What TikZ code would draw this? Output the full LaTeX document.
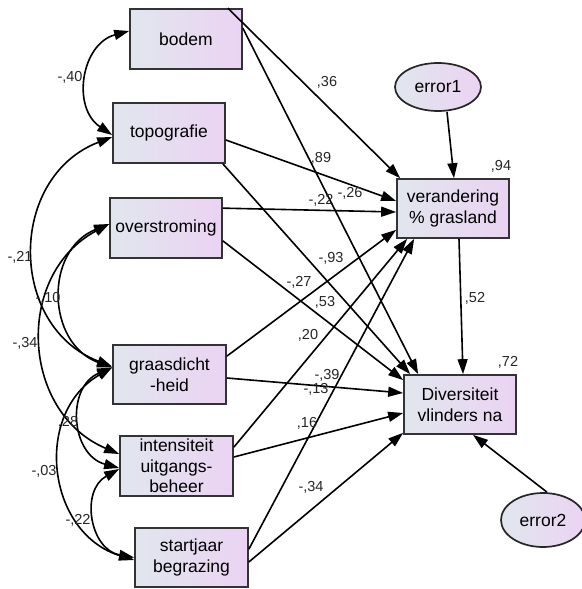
\documentclass[tikz,border=0pt]{standalone}
\usepackage{fontspec}
\setmainfont{Liberation Sans}
\usetikzlibrary{arrows.meta,shapes.geometric,calc}
\definecolor{boxl}{HTML}{E1E6EE}
\definecolor{boxr}{HTML}{EBD3F3}
\begin{document}
\begin{tikzpicture}[x=1pt,y=1pt,
  var/.style={draw=black!80, line width=1.7pt, left color=boxl, right color=boxr,
    minimum width=112pt, minimum height=59pt, inner sep=0pt, align=center,
    font=\fontsize{17.5}{20.5}\selectfont},
  err/.style={ellipse, draw=black!85, line width=1.7pt, left color=boxl, right color=boxr,
    inner sep=0pt, font=\fontsize{17.5}{20.5}\selectfont},
  reg/.style={-{Triangle[length=15pt,width=10pt]}, line width=1.6pt},
  cov/.style={{Triangle[length=15pt,width=10pt]}-{Triangle[length=15pt,width=10pt]}, line width=1.6pt},
  lbl/.style={font=\fontsize{14.5}{16}\selectfont, text=black!85, inner sep=0pt}]
\fill[white] (0,0) rectangle (581,-589);
\useasboundingbox (0,0) rectangle (581,-589);

% variables
\node[var, minimum height=60pt] (bodem) at (186,-39) {bodem};
\node[var, minimum height=60pt] (topo) at (169,-133) {topografie};
\node[var, minimum height=60pt] (over) at (166,-228) {overstroming};
\node[var, minimum width=113pt] (graas) at (169.5,-374.5) {graasdicht\\-heid};
\node[var, minimum width=113pt, minimum height=60pt] (inten) at (176.5,-466) {intensiteit\\uitgangs-\\beheer};
\node[var, minimum width=113pt] (start) at (191.5,-557.5) {startjaar\\begrazing};
\node[var] (ver) at (453,-208.5) {verandering\\\% grasland};
\node[var] (div) at (460,-404.5) {Diversiteit\\vlinders na};
\node[err, minimum width=86pt, minimum height=48pt] (e1) at (438,-87) {error1};
\node[err, minimum width=84pt, minimum height=54pt] (e2) at (543,-520) {error2};

% regressions
\draw[reg] ([xshift=-15pt]bodem.north east) -- ([xshift=4pt]ver.north west);
\draw[reg] ([yshift=-20pt]bodem.north east) -- ([xshift=15pt]div.north west);
\draw[reg] ([yshift=-7pt]topo.east) -- ([yshift=7.5pt]ver.west);
\draw[reg] ([xshift=-3pt]topo.south east) -- ([xshift=7pt]div.north west);
\draw[reg] ([yshift=-11pt]over.north east) -- ([yshift=-3.5pt]ver.west);
\draw[reg] ([yshift=18pt]over.south east) -- ([yshift=-6pt]div.north west);
\draw[reg] ([yshift=-12pt]graas.north east) -- ([yshift=9pt]ver.south west);
\draw[reg] ([yshift=-3.5pt]graas.east) -- ([yshift=11.5pt]div.west);
\draw[reg] ([yshift=-12pt]inten.north east) -- ([xshift=11pt]ver.south west);
\draw[reg] ([yshift=9pt]inten.east) -- ([yshift=-8.5pt]div.west);
\draw[reg] ([yshift=-22pt]start.north east) -- ([xshift=18pt]ver.south west);
\draw[reg] ([yshift=-4.5pt]start.east) -- ([yshift=2pt]div.south west);
\draw[reg] ([xshift=6pt]ver.south) -- ([xshift=3pt]div.north);
\draw[reg] ([xshift=9pt]e1.south) -- ([xshift=1pt]ver.north);
\draw[reg] ([xshift=4pt]e2.north) -- ([xshift=13pt]div.south);

% covariances
\draw[cov] ([yshift=8pt]bodem.west) to[out=195,in=146,looseness=1.2] ([yshift=-2pt]topo.west);
\draw[cov] ([yshift=-4pt]topo.west) to[out=201,in=159,looseness=1.25] ([yshift=8pt]graas.west);
\draw[cov] ([yshift=4pt]over.west) to[out=202,in=160,looseness=1.25] ([yshift=7pt]graas.west);
\draw[cov] ([yshift=4pt]over.west) to[out=208,in=157,looseness=1.19] ([yshift=12pt]inten.west);
\draw[cov] ([yshift=7pt]graas.west) to[out=203,in=165,looseness=1.28] ([yshift=-2pt]inten.west);
\draw[cov] ([yshift=7pt]graas.west) to[out=210,in=163,looseness=1.21] ([yshift=-2.5pt]start.west);
\draw[cov] ([yshift=-3pt]inten.west) to[out=209,in=170,looseness=1.28] (start.west);

% labels
\node[lbl] (l1) at (327,-82) {,36};
\node[lbl] (l2) at (321,-158) {,89};
\node[lbl] (l3) at (350,-193) {-,26};
\node[lbl] (l4) at (321,-200) {-,22};
\node[lbl] (l5) at (331,-258) {-,93};
\node[lbl] (l6) at (299,-282) {-,27};
\node[lbl] (l7) at (325,-302) {,53};
\node[lbl] (l8) at (308,-335) {,20};
\node[lbl] (l9) at (327,-375) {-,39};
\node[lbl] (l10) at (316,-389) {-,13};
\node[lbl] (l11) at (307,-423) {,16};
\node[lbl] (l12) at (311,-487) {-,34};
\node[lbl] (l13) at (475,-298) {,52};
\node[lbl] (l14) at (501,-166) {,94};
\node[lbl] (l15) at (508,-362) {,72};
\node[lbl] (c1) at (70,-77) {-,40};
\node[lbl] (c2) at (20,-257) {-,21};
\node[lbl] (c3) at (48,-298) {-,10};
\node[lbl] (c4) at (25,-343) {-,34};
\node[lbl] (c5) at (68,-422) {,28};
\node[lbl] (c6) at (44,-471) {-,03};
\node[lbl] (c7) at (78,-520) {-,22};
\end{tikzpicture}
\end{document}
